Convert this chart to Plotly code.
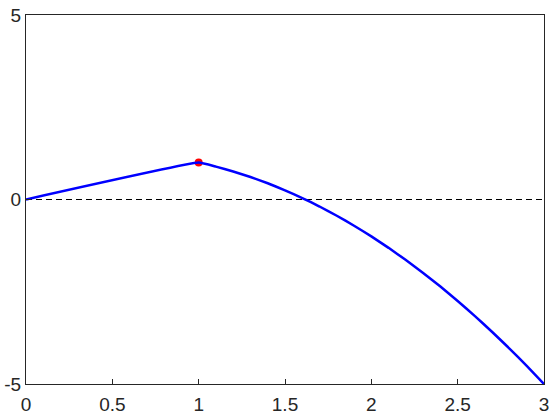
import plotly.graph_objects as go

# Curve samples
x_vals = [0.0, 1.0, 1.1, 1.2, 1.3, 1.4, 1.5, 1.6, 1.7, 1.8, 1.9, 2.0,
          2.1, 2.2, 2.3, 2.4, 2.5, 2.6, 2.7, 2.8, 2.9, 3.0]
y_vals = [0.0, 1.0, 0.89, 0.76, 0.61, 0.44, 0.25, 0.04, -0.19, -0.44, -0.71, -1.0,
          -1.31, -1.64, -1.99, -2.36, -2.75, -3.16, -3.59, -4.04, -4.51, -5.0]
peak_x = [1.0]
peak_y = [1.0]
zero_x = [0.0, 3.0]
zero_y = [0.0, 0.0]
x_ticks = [0, 0.5, 1, 1.5, 2, 2.5, 3]
x_tick_labels = ["0", "0.5", "1", "1.5", "2", "2.5", "3"]
y_ticks = [-5, 0, 5]
y_tick_labels = ["-5", "0", "5"]

fig = go.Figure()
fig.add_trace(go.Scatter(x=zero_x, y=zero_y, mode="lines",
                         line=dict(color="black", width=1, dash="6px,4px"),
                         hoverinfo="skip"))
fig.add_trace(go.Scatter(x=peak_x, y=peak_y, mode="markers",
                         marker=dict(color="red", size=8, line=dict(width=0))))
fig.add_trace(go.Scatter(x=x_vals, y=y_vals, mode="lines",
                         line=dict(color="blue", width=2.5, shape="spline", smoothing=0.3)))

axis_common = dict(showgrid=False, zeroline=False, showline=True, linecolor="#262626",
                   linewidth=1, mirror=True, ticks="inside", ticklen=5,
                   tickcolor="#262626", automargin=False,
                   tickfont=dict(family="Liberation Sans, Arial", size=19, color="#262626"))
fig.update_layout(
    width=560, height=420,
    margin=dict(l=26, r=16, t=15, b=36),
    paper_bgcolor="white", plot_bgcolor="white",
    showlegend=False,
    xaxis=dict(range=[0, 3], tickvals=x_ticks, ticktext=x_tick_labels,
               ticklabelstandoff=3, **axis_common),
    yaxis=dict(range=[-5, 5], tickvals=y_ticks, ticktext=y_tick_labels, **axis_common),
)
fig.write_html("out.html", config={"displayModeBar": False},
               post_script="document.body.style.margin='0';document.body.style.overflow='hidden';")
